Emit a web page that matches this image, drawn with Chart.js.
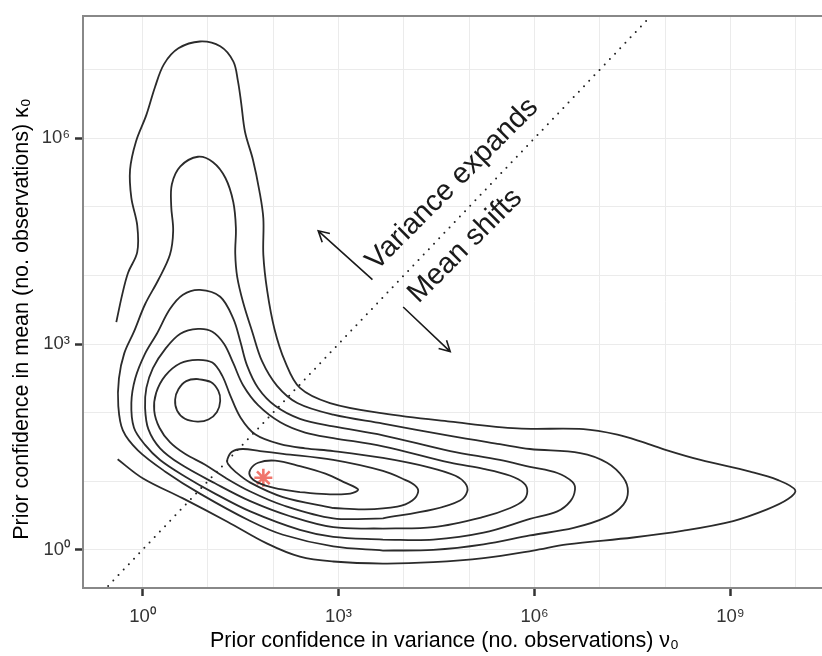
<!DOCTYPE html>
<html>
<head>
<meta charset="utf-8">
<script src="https://cdn.jsdelivr.net/npm/chart.js@4.4.1/dist/chart.umd.min.js"></script>
<style>
html, body { margin: 0; padding: 0; background: #fff; }
#wrap { width: 822px; height: 656px; position: relative; }
</style>
</head>
<body>
<div id="wrap"><canvas id="densityChart"></canvas></div>
<script>
// every value is in log10 units: x = log10(nu0), y = log10(kappa0)
var xTicks = [0, 3, 6, 9];
var xLabels = ['10\u2070', '10\u00b3', '10\u2076', '10\u2079'];
var yTicks = [0, 3, 6];
var yLabels = ['10\u2070', '10\u00b3', '10\u2076'];
var xGrid = [0, 1, 2, 3, 4, 5, 6, 7, 8, 9, 10];
var yGrid = [0, 1, 2, 3, 4, 5, 6, 7];

// density contours, outermost first
var contour1 = [[-0.40,3.32],[-0.31,3.72],[-0.22,4.04],[-0.08,4.34],[-0.08,4.73],[-0.17,5.13],[-0.19,5.54],[-0.10,5.95],[0.06,6.34],[0.19,6.74],[0.33,7.08],[0.55,7.31],[0.88,7.41],[1.19,7.34],[1.39,7.12],[1.46,6.84],[1.51,6.52],[1.57,6.09],[1.69,5.69],[1.79,5.23],[1.85,4.83],[1.85,4.30],[1.91,3.77],[2.02,3.22],[2.18,2.75],[2.41,2.36],[2.87,2.14],[3.68,1.99],[4.71,1.87],[5.74,1.77],[6.75,1.76],[7.27,1.68],[7.66,1.57],[8.03,1.45],[8.54,1.31],[9.30,1.14],[9.72,1.02],[9.99,0.87],[9.88,0.74],[9.56,0.59],[9.04,0.42],[8.28,0.28],[7.51,0.18],[6.50,0.08],[5.98,-0.01],[5.22,-0.12],[4.45,-0.18],[3.68,-0.20],[2.92,-0.17],[2.41,-0.10],[1.91,0.09],[1.30,0.41],[0.62,0.75],[0.01,1.04],[-0.38,1.32]];
var contour2 = [[3.68,-0.01],[2.92,0.05],[2.15,0.22],[1.65,0.42],[0.88,0.82],[0.35,1.14],[-0.07,1.45],[-0.30,1.74],[-0.37,2.10],[-0.36,2.50],[-0.28,2.86],[-0.13,3.18],[0.04,3.58],[0.24,3.93],[0.42,4.30],[0.47,4.65],[0.44,5.01],[0.45,5.33],[0.58,5.59],[0.85,5.73],[1.08,5.65],[1.27,5.42],[1.39,5.07],[1.43,4.69],[1.42,4.32],[1.45,3.98],[1.54,3.61],[1.68,3.18],[1.83,2.75],[2.06,2.39],[2.37,2.14],[2.92,1.97],[3.68,1.84],[4.71,1.66],[5.47,1.54],[5.93,1.47],[6.70,1.41],[7.11,1.27],[7.36,1.05],[7.43,0.85],[7.36,0.66],[7.11,0.48],[6.60,0.32],[5.93,0.21],[5.22,0.08],[4.45,0.00],[3.68,-0.01]];
var contour3 = [[3.68,0.15],[2.92,0.19],[2.41,0.29],[1.65,0.56],[1.11,0.82],[0.65,1.07],[0.27,1.31],[0.04,1.53],[-0.13,1.78],[-0.17,2.14],[-0.11,2.50],[0.04,2.86],[0.22,3.15],[0.42,3.51],[0.62,3.72],[0.88,3.79],[1.19,3.69],[1.39,3.37],[1.50,3.03],[1.60,2.69],[1.77,2.36],[2.03,2.10],[2.41,1.91],[2.92,1.80],[3.68,1.67],[4.71,1.44],[5.47,1.31],[5.93,1.21],[6.35,1.12],[6.58,0.99],[6.62,0.88],[6.55,0.71],[6.35,0.56],[5.93,0.45],[5.22,0.25],[4.45,0.15],[3.68,0.15]];
var contour4 = [[3.68,0.31],[2.92,0.33],[2.26,0.49],[1.65,0.71],[1.11,0.97],[0.58,1.25],[0.27,1.48],[0.09,1.76],[0.04,2.07],[0.06,2.36],[0.16,2.65],[0.35,2.93],[0.58,3.15],[0.85,3.22],[1.07,3.18],[1.25,3.00],[1.39,2.72],[1.54,2.40],[1.77,2.11],[2.11,1.86],[2.49,1.71],[2.92,1.63],[3.68,1.51],[4.71,1.27],[5.22,1.18],[5.63,1.08],[5.84,0.97],[5.89,0.85],[5.83,0.72],[5.63,0.61],[5.22,0.48],[4.45,0.33],[3.68,0.31]];
var contour5 = [[3.68,0.46],[2.92,0.46],[2.15,0.65],[1.65,0.85],[1.27,1.05],[0.96,1.24],[0.65,1.40],[0.42,1.57],[0.26,1.78],[0.18,2.03],[0.21,2.29],[0.35,2.54],[0.58,2.72],[0.84,2.77],[1.07,2.73],[1.22,2.54],[1.34,2.26],[1.50,1.93],[1.73,1.68],[2.11,1.54],[2.49,1.48],[2.92,1.44],[3.68,1.34],[4.40,1.20],[4.79,1.08],[4.94,0.97],[4.97,0.85],[4.86,0.72],[4.45,0.59],[3.68,0.46]];
var contour6 = [[2.92,0.61],[2.15,0.77],[1.65,0.98],[1.42,1.14],[1.31,1.25],[1.30,1.32],[1.37,1.43],[1.53,1.47],[1.80,1.44],[2.15,1.40],[2.92,1.31],[3.68,1.15],[4.02,1.02],[4.17,0.94],[4.22,0.85],[4.13,0.72],[3.90,0.63],[3.40,0.59],[2.92,0.61]];
var contour6peak = [[0.84,2.49],[1.04,2.45],[1.16,2.32],[1.19,2.17],[1.14,2.01],[1.01,1.90],[0.84,1.87],[0.65,1.91],[0.53,2.03],[0.50,2.19],[0.55,2.34],[0.67,2.46],[0.84,2.49],[1.04,2.45]];
var contour7 = [[2.41,0.84],[2.03,0.90],[1.77,0.98],[1.65,1.07],[1.65,1.17],[1.77,1.27],[2.03,1.30],[2.41,1.22],[2.80,1.11],[3.10,0.98],[3.30,0.88],[3.18,0.82],[2.87,0.81],[2.41,0.84]];

var diagonal = [[-1, -1], [8, 8]];
var observed = [1.85, 1.05];

// annotations (data coords)
var arrowUp = [[3.52, 3.94], [2.69, 4.65]];
var arrowDown = [[3.99, 3.54], [4.71, 2.89]];
var notes = [
  { text: 'Variance expands', at: [4.74, 5.33] },
  { text: 'Mean shifts', at: [4.94, 4.43] }
];

var FONT = "'Liberation Sans', Arial, sans-serif";

function toPts(arr) {
  return arr.map(function (p) { return { x: p[0], y: p[1] }; });
}

var contours = [contour1, contour2, contour3, contour4, contour5, contour6, contour6peak, contour7];
var datasets = contours.map(function (c) {
  return {
    data: toPts(c),
    showLine: true,
    borderColor: '#2b2b2b',
    borderWidth: 1.8,
    pointRadius: 0,
    tension: 0.35,
    fill: false
  };
});
datasets.push({
  data: toPts(diagonal),
  showLine: true,
  borderColor: '#222',
  borderWidth: 2,
  borderDash: [0, 7.5],
  borderCapStyle: 'round',
  pointRadius: 0
});
datasets.push({
  data: [{ x: observed[0], y: observed[1] }],
  showLine: false,
  pointStyle: 'star',
  pointRadius: 9,
  pointBorderColor: '#f0766c',
  pointBorderWidth: 2.6
});

function drawArrow(ctx, xs, ys, seg) {
  var x0 = xs.getPixelForValue(seg[0][0]), y0 = ys.getPixelForValue(seg[0][1]);
  var x1 = xs.getPixelForValue(seg[1][0]), y1 = ys.getPixelForValue(seg[1][1]);
  var ang = Math.atan2(y1 - y0, x1 - x0), len = 12, spread = 0.5;
  ctx.beginPath();
  ctx.moveTo(x0, y0);
  ctx.lineTo(x1, y1);
  ctx.moveTo(x1 - len * Math.cos(ang - spread), y1 - len * Math.sin(ang - spread));
  ctx.lineTo(x1, y1);
  ctx.lineTo(x1 - len * Math.cos(ang + spread), y1 - len * Math.sin(ang + spread));
  ctx.stroke();
}

var extras = {
  id: 'extras',
  afterDraw: function (chart) {
    var ctx = chart.ctx, xs = chart.scales.x, ys = chart.scales.y, a = chart.chartArea;
    ctx.save();
    // top edge of the panel
    ctx.strokeStyle = '#888';
    ctx.lineWidth = 2;
    ctx.beginPath();
    ctx.moveTo(a.left - 1, a.top);
    ctx.lineTo(a.right, a.top);
    ctx.stroke();

    ctx.strokeStyle = '#1a1a1a';
    ctx.lineWidth = 1.6;
    drawArrow(ctx, xs, ys, arrowUp);
    drawArrow(ctx, xs, ys, arrowDown);

    ctx.fillStyle = '#1a1a1a';
    ctx.font = '29px ' + FONT;
    ctx.textAlign = 'center';
    ctx.textBaseline = 'middle';
    notes.forEach(function (n) {
      ctx.save();
      ctx.translate(xs.getPixelForValue(n.at[0]), ys.getPixelForValue(n.at[1]));
      ctx.rotate(-Math.PI / 4);
      ctx.fillText(n.text, 0, 0);
      ctx.restore();
    });

    // axis titles
    ctx.fillStyle = '#000';
    ctx.font = '21.5px ' + FONT;
    ctx.textBaseline = 'alphabetic';
    ctx.fillText('Prior confidence in variance (no. observations) \u03bd\u2080', (a.left + a.right) / 2 - 8, chart.height - 9);
    ctx.save();
    ctx.translate(28, (a.top + a.bottom) / 2 + 17);
    ctx.rotate(-Math.PI / 2);
    ctx.fillText('Prior confidence in mean (no. observations) \u03ba\u2080', 0, 0);
    ctx.restore();
    ctx.restore();
  }
};

function tickMarkColor(list) {
  return function (c) { return list.indexOf(c.tick.value) >= 0 ? '#333' : 'rgba(0,0,0,0)'; };
}

var densityChart = new Chart('densityChart', {
  type: 'scatter',
  data: { datasets: datasets },
  plugins: [extras],
  options: {
    responsive: true,
    maintainAspectRatio: false,
    animation: false,
    layout: { autoPadding: false, padding: { top: 7, right: 0, left: 0, bottom: 0 } },
    plugins: { legend: { display: false }, tooltip: { enabled: false } },
    scales: {
      x: {
        type: 'linear',
        min: -0.91,
        max: 10.4,
        afterBuildTicks: function (s) { s.ticks = xGrid.map(function (v) { return { value: v }; }); },
        afterFit: function (s) { s.height = 68; },
        grid: { color: '#ebebeb', lineWidth: 1, tickLength: 8, tickWidth: 2.5, tickColor: tickMarkColor(xTicks) },
        border: { color: '#888', width: 2 },
        ticks: {
          autoSkip: false, maxRotation: 0, padding: 10, color: '#333',
          font: { family: FONT, size: 18.5 },
          callback: function (v) { var i = xTicks.indexOf(v); return i >= 0 ? xLabels[i] : ''; }
        }
      },
      y: {
        type: 'linear',
        min: -0.556,
        max: 7.78,
        afterBuildTicks: function (s) { s.ticks = yGrid.map(function (v) { return { value: v }; }); },
        afterFit: function (s) { s.width = 83; },
        grid: { color: '#ebebeb', lineWidth: 1, tickLength: 8, tickWidth: 2.5, tickColor: tickMarkColor(yTicks) },
        border: { color: '#888', width: 2 },
        ticks: {
          autoSkip: false, padding: 5, color: '#333',
          font: { family: FONT, size: 18.5 },
          callback: function (v) { var i = yTicks.indexOf(v); return i >= 0 ? yLabels[i] : ''; }
        }
      }
    }
  }
});
</script>
</body>
</html>
